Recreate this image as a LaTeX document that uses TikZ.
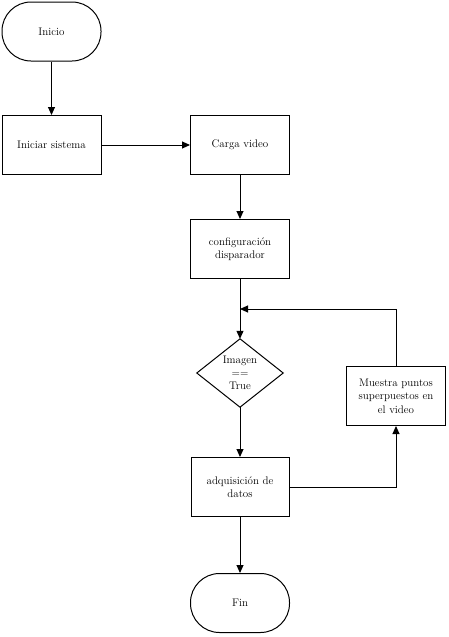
\documentclass[tikz,border=0pt]{standalone}
\usetikzlibrary{arrows.meta}
\begin{document}
\begin{tikzpicture}[x=1pt,y=-1pt,
  box/.style={draw, line width=1pt, minimum width=99pt, minimum height=59pt, inner sep=0pt, align=center, font=\fontsize{11}{13.5}\selectfont},
  term/.style={box, rounded corners=29pt},
  arr/.style={-{Triangle[length=8pt,width=7pt]}, line width=1pt},
  ln/.style={line width=1pt}]
\useasboundingbox (0,0) rectangle (449,637);
\node[term] (inicio) at (51.5,31.5) {Inicio};
\node[box] (iniciar) at (51.5,145) {Iniciar sistema};
\node[box] (carga) at (240,145) {Carga video};
\node[box] (config) at (240,249) {configuración\\disparador};
\node[minimum width=86pt, minimum height=68pt, inner sep=0pt, align=center, font=\fontsize{11}{13}\selectfont] (dec) at (240,373) {Imagen\\==\\True};
\draw[ln] (dec.north) -- (dec.east) -- (dec.south) -- (dec.west) -- cycle;
\node[box, minimum width=98pt] (adq) at (240,487) {adquisición de\\datos};
\node[box] (muestra) at (396,396) {Muestra puntos\\superpuestos en\\el video};
\node[term] (fin) at (240,603) {Fin};
\coordinate (j) at (240,309);
\draw[arr] (inicio.south) -- (iniciar.north);
\draw[arr] (iniciar.east) -- (carga.west);
\draw[arr] (carga.south) -- (config.north);
\draw[arr] (config.south) -- (dec.north);
\draw[arr] (dec.south) -- (adq.north);
\draw[arr] (adq.east) -| (muestra.south);
\draw[arr] (muestra.north) |- (j);
\draw[arr] (adq.south) -- (fin.north);
\end{tikzpicture}
\end{document}
